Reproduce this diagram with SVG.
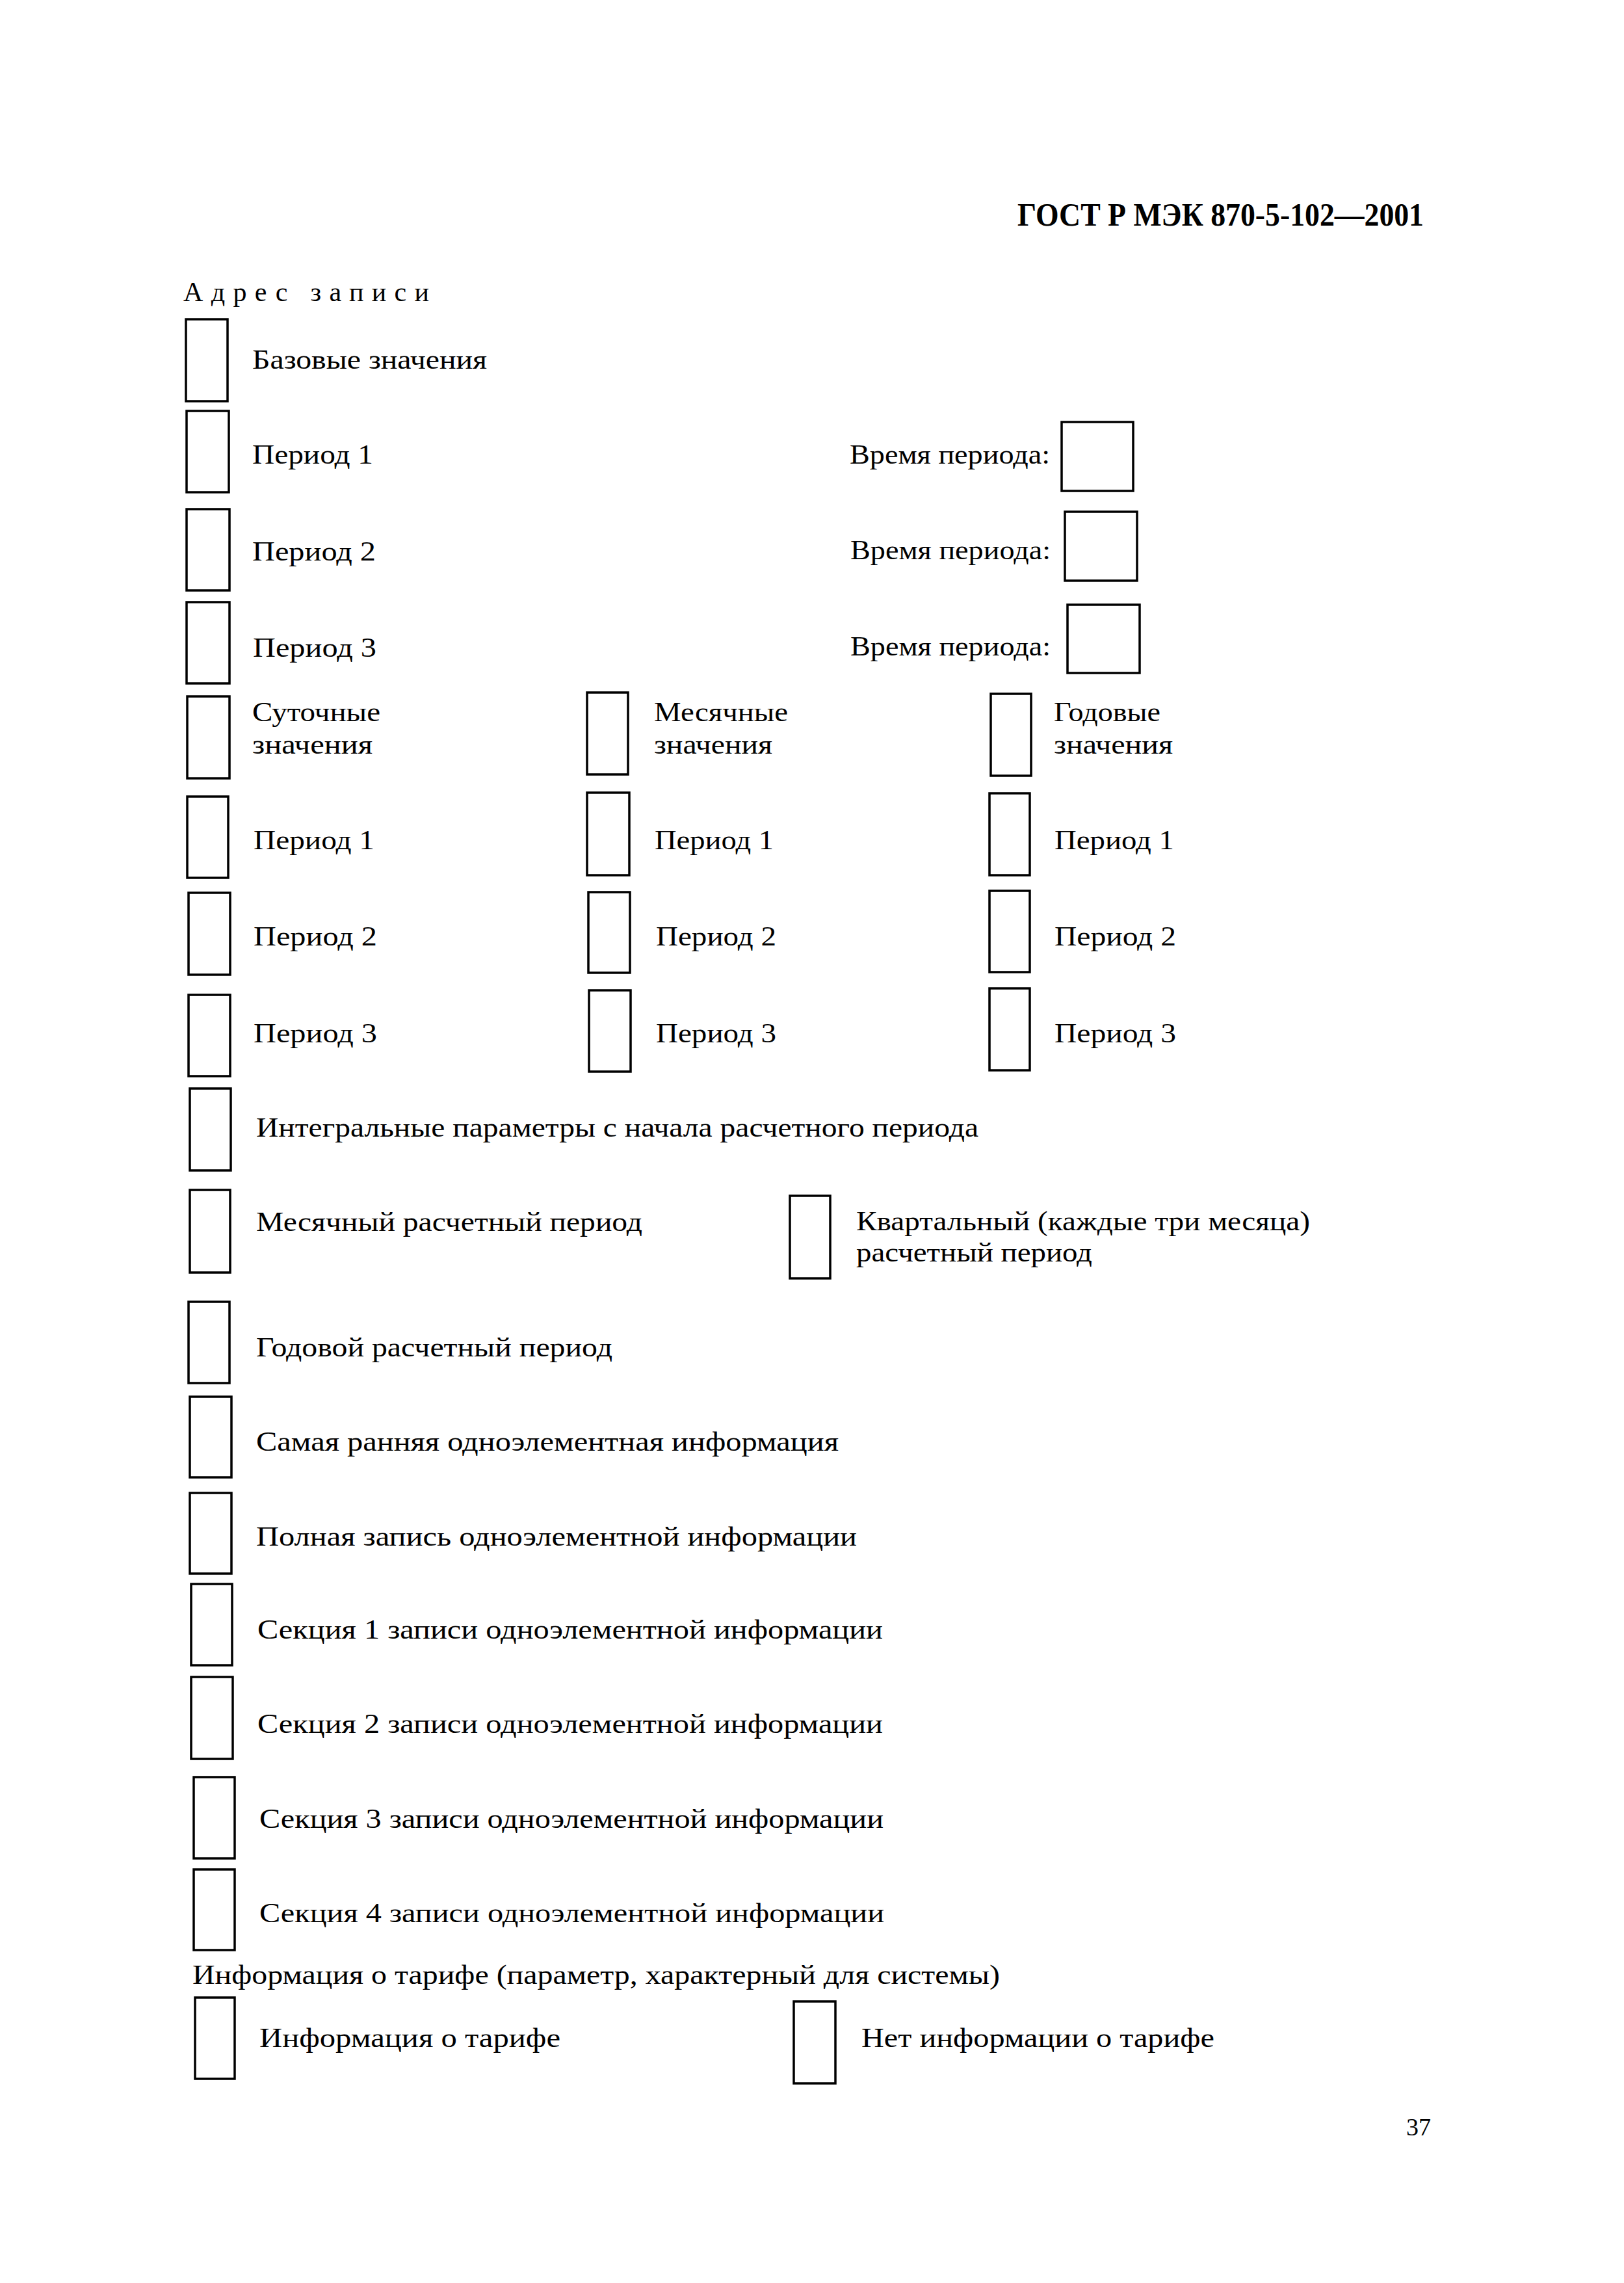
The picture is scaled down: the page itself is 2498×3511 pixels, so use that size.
<svg xmlns="http://www.w3.org/2000/svg" width="2498" height="3511" viewBox="0 0 2498 3511">
<style>
.box{fill:none;stroke:#000;stroke-width:3.5}
.t{font-family:"Liberation Serif","Times New Roman",serif;font-size:42px;fill:#000}
.h{font-family:"Liberation Serif","Times New Roman",serif;font-size:50px;font-weight:bold;fill:#000}
</style>
<rect width="2498" height="3511" fill="#fff"/>
<g id="header"><text class="h" x="1565" y="347" textLength="625" lengthAdjust="spacingAndGlyphs">ГОСТ Р МЭК 870-5-102—2001</text></g>
<g id="title"><text class="t" x="282" y="463" textLength="378" lengthAdjust="spacing">Адрес записи</text></g>

<g id="base"><rect class="box" x="286" y="491" width="64" height="126"/><text class="t" x="388" y="567" textLength="361" lengthAdjust="spacingAndGlyphs">Базовые значения</text></g>
<g id="p1"><rect class="box" x="287" y="632" width="65" height="125"/><text class="t" x="388" y="713" textLength="186" lengthAdjust="spacingAndGlyphs">Период 1</text></g>
<g id="p2"><rect class="box" x="287" y="783" width="66" height="125"/><text class="t" x="388" y="862" textLength="190" lengthAdjust="spacingAndGlyphs">Период 2</text></g>
<g id="p3"><rect class="box" x="287" y="926" width="66" height="125"/><text class="t" x="389" y="1010" textLength="190" lengthAdjust="spacingAndGlyphs">Период 3</text></g>

<g id="t1"><text class="t" x="1307" y="713" textLength="308" lengthAdjust="spacingAndGlyphs">Время периода:</text><rect class="box" x="1633" y="649" width="110" height="106"/></g>
<g id="t2"><text class="t" x="1308" y="860" textLength="308" lengthAdjust="spacingAndGlyphs">Время периода:</text><rect class="box" x="1638" y="787" width="111" height="106"/></g>
<g id="t3"><text class="t" x="1308" y="1008" textLength="308" lengthAdjust="spacingAndGlyphs">Время периода:</text><rect class="box" x="1642" y="930" width="111" height="105"/></g>

<g id="daily"><rect class="box" x="288" y="1071" width="65" height="126"/><text class="t" x="388" y="1109" textLength="197" lengthAdjust="spacingAndGlyphs">Суточные</text><text class="t" x="388" y="1159" textLength="185" lengthAdjust="spacingAndGlyphs">значения</text></g>
<g id="monthly"><rect class="box" x="903" y="1065" width="63" height="126"/><text class="t" x="1006" y="1109" textLength="206" lengthAdjust="spacingAndGlyphs">Месячные</text><text class="t" x="1006" y="1159" textLength="182" lengthAdjust="spacingAndGlyphs">значения</text></g>
<g id="yearly"><rect class="box" x="1524" y="1067" width="62" height="126"/><text class="t" x="1621" y="1109" textLength="164" lengthAdjust="spacingAndGlyphs">Годовые</text><text class="t" x="1621" y="1159" textLength="183" lengthAdjust="spacingAndGlyphs">значения</text></g>

<g id="d1"><rect class="box" x="288" y="1225" width="63" height="125"/><text class="t" x="390" y="1306" textLength="186" lengthAdjust="spacingAndGlyphs">Период 1</text></g>
<g id="m1"><rect class="box" x="903" y="1219" width="65" height="127"/><text class="t" x="1007" y="1306" textLength="183" lengthAdjust="spacingAndGlyphs">Период 1</text></g>
<g id="y1"><rect class="box" x="1522" y="1220" width="62" height="126"/><text class="t" x="1622" y="1306" textLength="184" lengthAdjust="spacingAndGlyphs">Период 1</text></g>

<g id="d2"><rect class="box" x="290" y="1373" width="64" height="126"/><text class="t" x="390" y="1454" textLength="190" lengthAdjust="spacingAndGlyphs">Период 2</text></g>
<g id="m2"><rect class="box" x="905" y="1372" width="64" height="124"/><text class="t" x="1009" y="1454" textLength="185" lengthAdjust="spacingAndGlyphs">Период 2</text></g>
<g id="y2"><rect class="box" x="1522" y="1370" width="62" height="125"/><text class="t" x="1622" y="1454" textLength="187" lengthAdjust="spacingAndGlyphs">Период 2</text></g>

<g id="d3"><rect class="box" x="290" y="1530" width="64" height="125"/><text class="t" x="390" y="1603" textLength="190" lengthAdjust="spacingAndGlyphs">Период 3</text></g>
<g id="m3"><rect class="box" x="906" y="1523" width="64" height="125"/><text class="t" x="1009" y="1603" textLength="185" lengthAdjust="spacingAndGlyphs">Период 3</text></g>
<g id="y3"><rect class="box" x="1522" y="1520" width="62" height="126"/><text class="t" x="1622" y="1603" textLength="187" lengthAdjust="spacingAndGlyphs">Период 3</text></g>

<g id="integral"><rect class="box" x="292" y="1674" width="63" height="126"/><text class="t" x="394" y="1748" textLength="1111" lengthAdjust="spacingAndGlyphs">Интегральные параметры с начала расчетного периода</text></g>
<g id="month-calc"><rect class="box" x="292" y="1830" width="62" height="127"/><text class="t" x="394" y="1893" textLength="594" lengthAdjust="spacingAndGlyphs">Месячный расчетный период</text></g>
<g id="quarter-calc"><rect class="box" x="1215" y="1839" width="62" height="127"/><text class="t" x="1317" y="1892" textLength="698" lengthAdjust="spacingAndGlyphs">Квартальный (каждые три месяца)</text><text class="t" x="1317" y="1940" textLength="363" lengthAdjust="spacingAndGlyphs">расчетный период</text></g>
<g id="year-calc"><rect class="box" x="290" y="2002" width="63" height="125"/><text class="t" x="394" y="2086" textLength="548" lengthAdjust="spacingAndGlyphs">Годовой расчетный период</text></g>
<g id="earliest"><rect class="box" x="292" y="2148" width="64" height="124"/><text class="t" x="394" y="2231" textLength="896" lengthAdjust="spacingAndGlyphs">Самая ранняя одноэлементная информация</text></g>
<g id="full"><rect class="box" x="292" y="2296" width="64" height="124"/><text class="t" x="394" y="2377" textLength="924" lengthAdjust="spacingAndGlyphs">Полная запись одноэлементной информации</text></g>
<g id="s1"><rect class="box" x="294" y="2436" width="63" height="125"/><text class="t" x="396" y="2520" textLength="962" lengthAdjust="spacingAndGlyphs">Секция 1 записи одноэлементной информации</text></g>
<g id="s2"><rect class="box" x="294" y="2579" width="64" height="126"/><text class="t" x="396" y="2665" textLength="962" lengthAdjust="spacingAndGlyphs">Секция 2 записи одноэлементной информации</text></g>
<g id="s3"><rect class="box" x="298" y="2733" width="63" height="125"/><text class="t" x="399" y="2811" textLength="960" lengthAdjust="spacingAndGlyphs">Секция 3 записи одноэлементной информации</text></g>
<g id="s4"><rect class="box" x="298" y="2875" width="63" height="124"/><text class="t" x="399" y="2956" textLength="961" lengthAdjust="spacingAndGlyphs">Секция 4 записи одноэлементной информации</text></g>

<g id="tariff-title"><text class="t" x="296" y="3051" textLength="1242" lengthAdjust="spacingAndGlyphs">Информация о тарифе (параметр, характерный для системы)</text></g>
<g id="tariff"><rect class="box" x="300" y="3072" width="61" height="125"/><text class="t" x="399" y="3148" textLength="463" lengthAdjust="spacingAndGlyphs">Информация о тарифе</text></g>
<g id="no-tariff"><rect class="box" x="1221" y="3078" width="64" height="126"/><text class="t" x="1325" y="3148" textLength="543" lengthAdjust="spacingAndGlyphs">Нет информации о тарифе</text></g>

<g id="page"><text class="t" x="2163" y="3284" style="font-size:38px" textLength="38" lengthAdjust="spacingAndGlyphs">37</text></g>
</svg>
